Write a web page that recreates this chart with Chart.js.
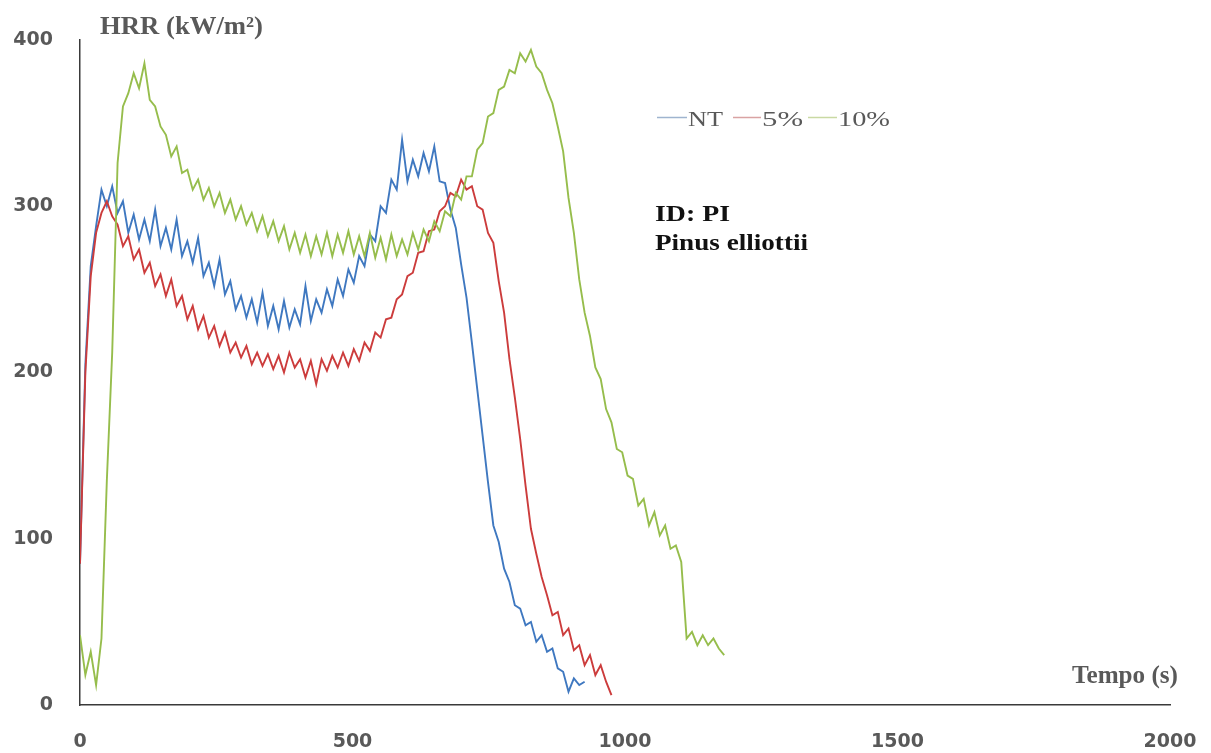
<!DOCTYPE html>
<html>
<head>
<meta charset="utf-8">
<title>HRR - Pinus elliottii</title>
<script src="https://cdn.jsdelivr.net/npm/chart.js@4.4.1/dist/chart.umd.min.js"></script>
<style>
  html, body { margin: 0; padding: 0; background: #fff; }
  #wrap { width: 1211px; height: 753px; }
</style>
</head>
<body>
<div id="wrap"><canvas id="hrrChart" width="1211" height="753"></canvas></div>
<script>
// seconds between two readings of the cone calorimeter
const SAMPLE_INTERVAL = 9.85;

const seriesNames = ['NT', '5%', '10%'];
const xTicks = [0, 500, 1000, 1500, 2000];
const yTicks = [0, 100, 200, 300, 400];

// HRR readings (kW/m2), one per sample interval starting at t = 0
const hrrNT = [
    85, 205, 264, 288, 310, 300, 312, 296, 303, 284,
    295, 280, 292, 279, 298, 276, 287, 274, 292, 270,
    279, 266, 281, 258, 266, 252, 268, 247, 255, 238,
    246, 233, 244, 230, 248, 228, 240, 226, 243, 227,
    238, 229, 252, 231, 244, 236, 250, 240, 256, 246,
    262, 254, 270, 264, 283, 279, 300, 296, 316, 310,
    340, 315, 328, 318, 332, 321, 336, 315, 314, 298,
    287, 265, 245, 218, 190, 162, 134, 108, 98, 82,
    74, 60, 58, 48, 50, 38, 42, 32, 34, 22,
    20, 8, 16, 12, 14
];

const hrr5 = [
    85, 200, 258, 284, 296, 303, 294, 289, 276, 282,
    268, 274, 260, 266, 252, 259, 246, 256, 240, 246,
    232, 240, 226, 234, 221, 228, 216, 224, 212, 218,
    209, 216, 205, 212, 204, 211, 202, 210, 200, 212,
    203, 208, 197, 207, 193, 208, 201, 210, 203, 212,
    204, 214, 207, 218, 213, 224, 221, 232, 233, 244,
    247, 258, 260, 272, 273, 285, 286, 297, 300, 308,
    306, 316, 310, 312, 300, 298, 284, 278, 255, 236,
    208, 185, 160, 132, 106, 91, 77, 66, 54, 56,
    42, 46, 33, 36, 24, 30, 18, 24, 14, 6
];

const hrr10 = [
    42, 18, 32, 12, 40, 135, 212, 326, 360, 368,
    380, 371, 386, 364, 360, 348, 343, 330, 336, 320,
    322, 310, 316, 304, 311, 300, 308, 296, 304, 292,
    300, 289, 296, 285, 294, 282, 291, 279, 288, 274,
    284, 272, 283, 270, 282, 271, 284, 270, 283, 272,
    285, 271, 282, 270, 284, 269, 281, 268, 283, 270,
    280, 271, 284, 274, 286, 279, 291, 285, 297, 294,
    308, 304, 318, 318, 334, 338, 354, 356, 370, 372,
    382, 380, 392, 387, 394, 384, 380, 370, 362, 348,
    333, 305, 284, 256, 236, 222, 203, 196, 178, 170,
    154, 152, 138, 136, 120, 124, 108, 116, 102, 108,
    94, 96, 86, 40, 44, 36, 42, 36, 40, 34, 30
];

const seriesColors = ['#3f78c0', '#cc3c3c', '#96bd4c'];
const legendLineColors = ['#9fb4cf', '#d9a3a3', '#c9d9a3'];

(function() {
    'use strict';

    function toPoints(values) {
        return values.map((v, i) => ({ x: i * SAMPLE_INTERVAL, y: v }));
    }

    // draws text squeezed/stretched to a given width (the source font is wide)
    function fitText(ctx, text, x, y, font, color, width) {
        ctx.save();
        ctx.font = font;
        ctx.fillStyle = color;
        ctx.textAlign = 'left';
        ctx.textBaseline = 'alphabetic';
        const w = ctx.measureText(text).width;
        ctx.translate(x, y);
        ctx.scale(width / w, 1);
        ctx.fillText(text, 0, 0);
        ctx.restore();
    }

    const labelsPlugin = {
        id: 'labelsPlugin',
        afterDraw(chart) {
            const ctx = chart.ctx;
            const grey = '#595959';

            // axis titles
            fitText(ctx, 'HRR (kW/m²)', 100, 34, 'bold 25px "Liberation Serif"', grey, 163);
            fitText(ctx, 'Tempo (s)', 1072, 683, 'bold 25px "Liberation Serif"', grey, 106);

            // legend
            const legend = [
                { x: 657, len: 30, tx: 688, tw: 35 },
                { x: 733, len: 28, tx: 762, tw: 41 },
                { x: 808, len: 29, tx: 838, tw: 52 }
            ];
            legend.forEach((item, i) => {
                ctx.save();
                ctx.strokeStyle = legendLineColors[i];
                ctx.lineWidth = 1.5;
                ctx.beginPath();
                ctx.moveTo(item.x, 117.5);
                ctx.lineTo(item.x + item.len, 117.5);
                ctx.stroke();
                ctx.restore();
                fitText(ctx, seriesNames[i], item.tx, 126, '21px "Liberation Serif"', grey, item.tw);
            });

            // sample id
            fitText(ctx, 'ID: PI', 655, 221, 'bold 23px "Liberation Serif"', '#111111', 75);
            fitText(ctx, 'Pinus elliottii', 655, 250, 'bold 23px "Liberation Serif"', '#111111', 153);
        }
    };

    const tickFont = { family: '"DejaVu Sans"', size: 19, weight: 'bold' };

    new Chart(document.getElementById('hrrChart'), {
        type: 'line',
        data: {
            datasets: [
                { label: seriesNames[0], data: toPoints(hrrNT), borderColor: seriesColors[0], order: 2 },
                { label: seriesNames[1], data: toPoints(hrr5), borderColor: seriesColors[1], order: 1 },
                { label: seriesNames[2], data: toPoints(hrr10), borderColor: seriesColors[2], order: 0 }
            ]
        },
        options: {
            responsive: false,
            animation: false,
            devicePixelRatio: 1,
            layout: { padding: { top: 40, right: 41, left: 0, bottom: 0 } },
            elements: {
                point: { radius: 0 },
                line: { borderWidth: 1.9, tension: 0, fill: false }
            },
            plugins: {
                legend: { display: false },
                tooltip: { enabled: false }
            },
            scales: {
                x: {
                    type: 'linear',
                    min: 0,
                    max: 2000,
                    afterFit(scale) {
                        scale.height = 48;
                        scale.paddingLeft = 0;
                        scale.paddingRight = 0;
                    },
                    afterBuildTicks(scale) { scale.ticks = xTicks.map(v => ({ value: v })); },
                    grid: { display: false, drawTicks: false },
                    border: { display: true, color: '#3a3a3a', width: 1.5 },
                    ticks: { font: tickFont, color: '#595959', padding: 26, maxRotation: 0, callback: v => String(v) }
                },
                y: {
                    min: 0,
                    max: 400,
                    afterFit(scale) {
                        scale.width = 80;
                        scale.paddingTop = 0;
                        scale.paddingBottom = 0;
                    },
                    afterBuildTicks(scale) { scale.ticks = yTicks.map(v => ({ value: v })); },
                    grid: { display: false, drawTicks: false },
                    border: { display: true, color: '#3a3a3a', width: 1.5 },
                    ticks: { font: tickFont, color: '#595959', padding: 27, callback: v => String(v) }
                }
            }
        },
        plugins: [labelsPlugin]
    });
})();
</script>
</body>
</html>
